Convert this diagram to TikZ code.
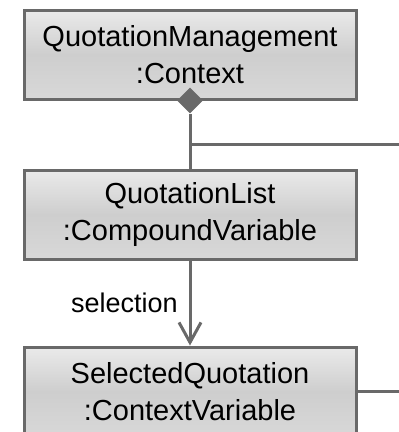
\documentclass[tikz,border=0pt]{standalone}
\usepackage{fontspec}
\setmainfont{Liberation Sans}
\usetikzlibrary{arrows.meta,shapes.geometric}
\definecolor{linecol}{RGB}{105,105,105}
\definecolor{boxtop}{RGB}{234,234,234}
\definecolor{boxmid}{RGB}{206,206,206}
\definecolor{boxbot}{RGB}{216,216,216}
\tikzset{
  objbox/.style={draw=linecol, line width=2.25pt, rectangle,
    top color=boxtop, bottom color=boxbot, middle color=boxmid,
    minimum width=249pt, minimum height=66.75pt, inner sep=0pt,
    align=center, font=\fontsize{21.75}{27.5}\selectfont, text=black},
  conn/.style={draw=linecol, line width=2.25pt},
  lbl/.style={font=\fontsize{20.25}{24}\selectfont, text=black, inner sep=0pt},
}
\begin{document}
\begin{tikzpicture}[x=0.75pt,y=-0.75pt]
\useasboundingbox (0,0) rectangle (399,432);
\node[objbox] (QM) at (190,54.5) {QuotationManagement\\:Context};
\node[objbox] (QL) at (190,214.5) {QuotationList\\:CompoundVariable};
\node[objbox] (SQ) at (190,391.5) {SelectedQuotation\\:ContextVariable};
\node[diamond, fill=linecol, minimum width=19.5pt, minimum height=19.5pt, inner sep=0pt] (dia) at (QM.south) {};
\coordinate (j) at (190,144.7);
\coordinate (jr) at (405,144.7);
\coordinate (sr) at (405,391.5);
\draw[conn] (dia.south) -- (QL.north);
\draw[conn] (j) -- (jr);
\draw[conn] (SQ.east) -- (sr);
\draw[conn, -{Straight Barb[length=15pt,width=16.5pt]}] (QL.south) -- (SQ.north);
\node[lbl, anchor=base east] (sel) at (178,312.3) {selection};
\end{tikzpicture}
\end{document}
